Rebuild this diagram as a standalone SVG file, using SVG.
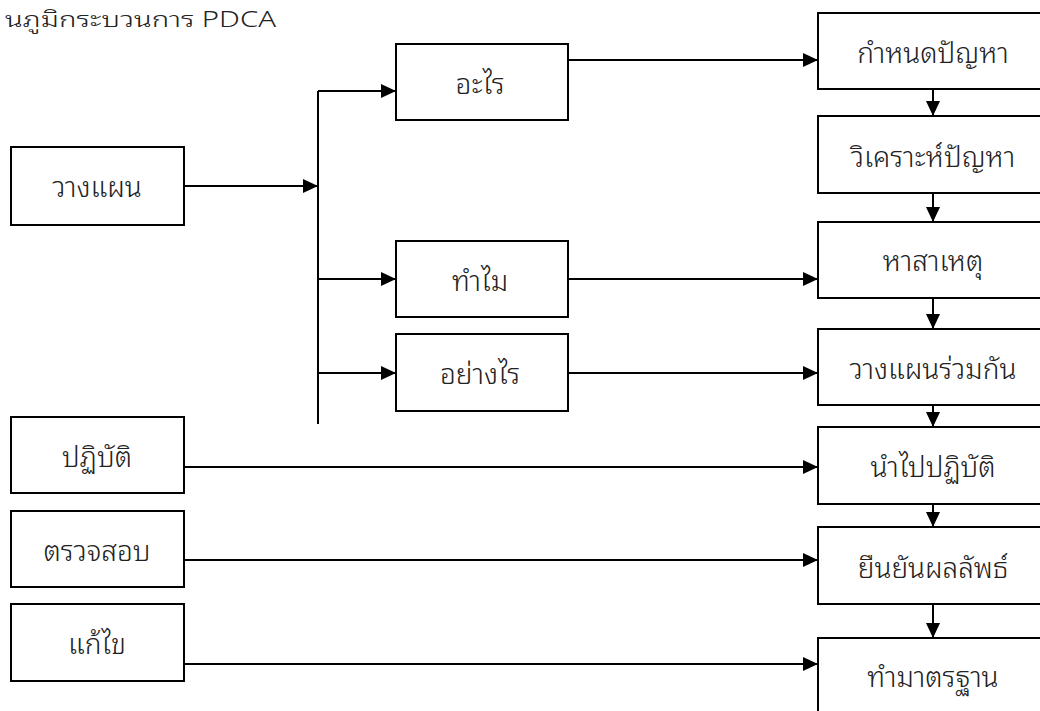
<svg xmlns="http://www.w3.org/2000/svg" width="1040" height="711" viewBox="0 0 1040 711">
<defs>
<marker id="ah" markerWidth="15" markerHeight="14" refX="15" refY="7" orient="auto" markerUnits="userSpaceOnUse">
<path d="M0,0 L15,7 L0,14 Z" fill="#000"/>
</marker>
<style>
rect{fill:#fff;stroke:#000;stroke-width:2}
text{font-family:"Noto Sans Thai Looped","Noto Sans Thai","Leelawadee UI","Noto Sans","DejaVu Sans",sans-serif;font-size:28px;font-weight:300;fill:#222;text-anchor:middle}
.c line{stroke:#000;stroke-width:2;fill:none}
.a{marker-end:url(#ah)}
</style>
</defs>
<rect x="-10" y="-10" width="1060" height="731" style="fill:#fff;stroke:none"/>
<text x="5" y="27" style="text-anchor:start;font-size:22px" textLength="271" lengthAdjust="spacingAndGlyphs">นภูมิกระบวนการ PDCA</text>
<g class="c" id="connectors">
<line class="a" x1="184" y1="186" x2="318" y2="186"/>
<line x1="318" y1="91" x2="318" y2="424"/>
<line class="a" x1="318" y1="91" x2="396" y2="91"/>
<line class="a" x1="318" y1="279" x2="396" y2="279"/>
<line class="a" x1="318" y1="373" x2="396" y2="373"/>
<line class="a" x1="568" y1="60" x2="818" y2="60"/>
<line class="a" x1="568" y1="279" x2="818" y2="279"/>
<line class="a" x1="568" y1="373" x2="818" y2="373"/>
<line class="a" x1="184" y1="467" x2="818" y2="467"/>
<line class="a" x1="184" y1="560" x2="818" y2="560"/>
<line class="a" x1="184" y1="664" x2="818" y2="664"/>
<line class="a" x1="933" y1="89" x2="933" y2="116"/>
<line class="a" x1="933" y1="193" x2="933" y2="222"/>
<line class="a" x1="933" y1="298" x2="933" y2="329"/>
<line class="a" x1="933" y1="405" x2="933" y2="427"/>
<line class="a" x1="933" y1="504" x2="933" y2="527"/>
<line class="a" x1="933" y1="604" x2="933" y2="638"/>
</g>
<g id="plan"><rect x="11" y="147" width="173" height="78"/><text x="97" y="197">วางแผน</text></g>
<g id="do"><rect x="11" y="417" width="173" height="76"/><text x="97" y="467">ปฏิบัติ</text></g>
<g id="check"><rect x="11" y="511" width="173" height="76"/><text x="97" y="561">ตรวจสอบ</text></g>
<g id="act"><rect x="11" y="604" width="173" height="77"/><text x="97" y="654">แก้ไข</text></g>
<g id="what"><rect x="396" y="44" width="172" height="76"/><text x="480" y="94">อะไร</text></g>
<g id="why"><rect x="396" y="241" width="172" height="76"/><text x="480" y="291">ทำไม</text></g>
<g id="how"><rect x="396" y="334" width="172" height="77"/><text x="480" y="384">อย่างไร</text></g>
<g id="r1"><rect x="818" y="13" width="232" height="76"/><text x="933" y="63">กำหนดปัญหา</text></g>
<g id="r2"><rect x="818" y="116" width="232" height="77"/><text x="933" y="167">วิเคราะห์ปัญหา</text></g>
<g id="r3"><rect x="818" y="222" width="232" height="76"/><text x="933" y="271">หาสาเหตุ</text></g>
<g id="r4"><rect x="818" y="329" width="232" height="76"/><text x="933" y="379">วางแผนร่วมกัน</text></g>
<g id="r5"><rect x="818" y="427" width="232" height="77"/><text x="933" y="477">นำไปปฏิบัติ</text></g>
<g id="r6"><rect x="818" y="527" width="232" height="77"/><text x="933" y="578">ยืนยันผลลัพธ์</text></g>
<g id="r7"><rect x="818" y="638" width="232" height="80"/><text x="933" y="687">ทำมาตรฐาน</text></g>
</svg>
